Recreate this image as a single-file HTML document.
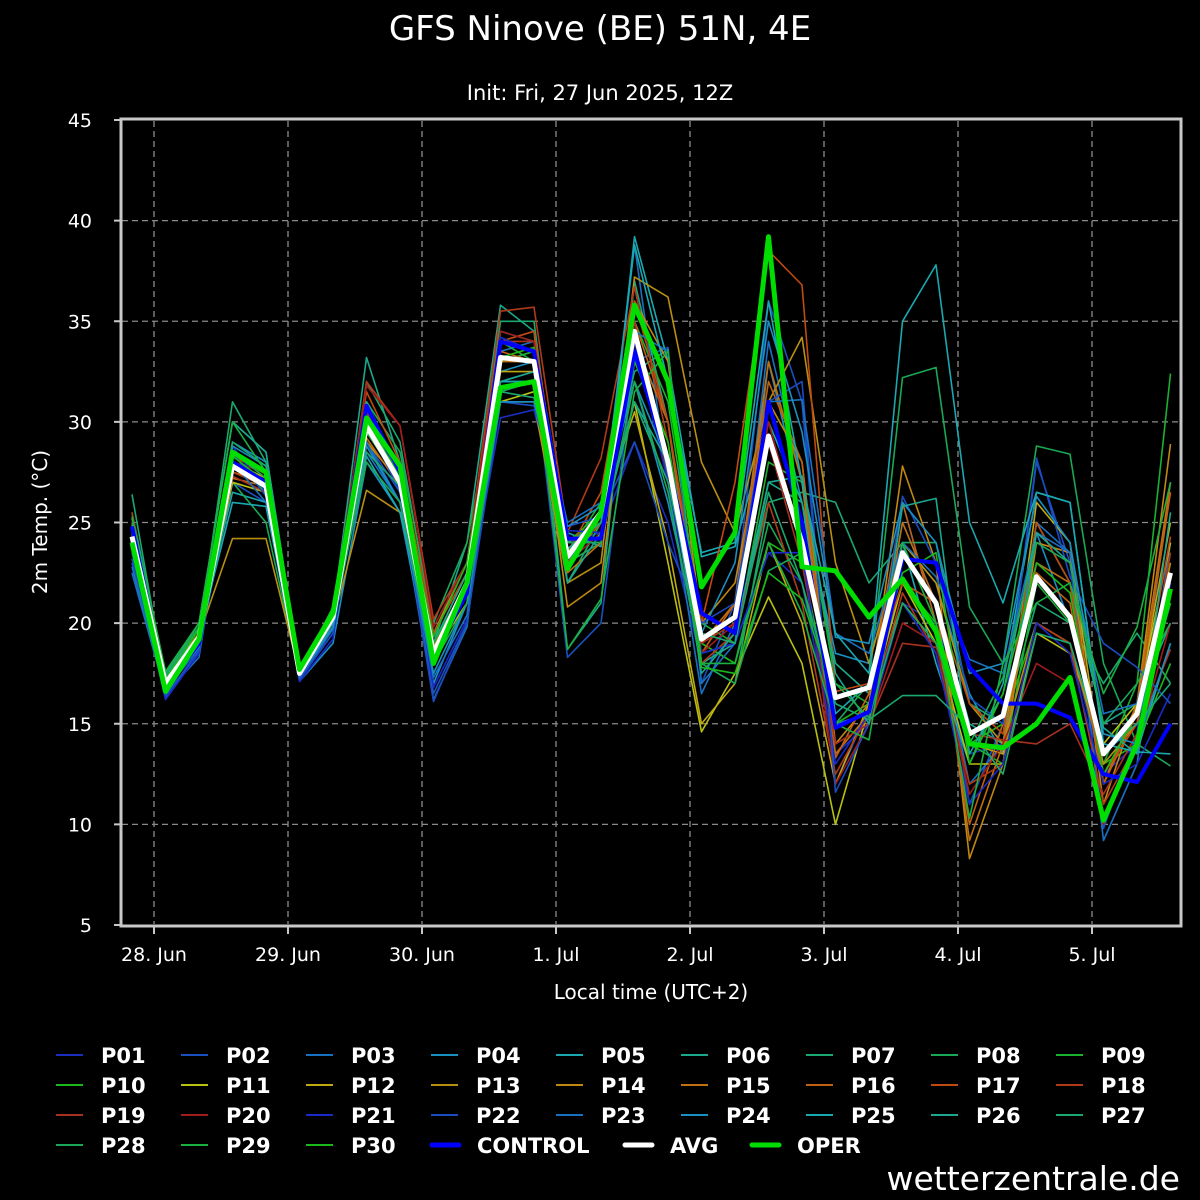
<!DOCTYPE html>
<html><head><meta charset="utf-8"><style>
html,body{margin:0;padding:0;background:#000;}
svg{display:block;font-family:"DejaVu Sans","Liberation Sans",sans-serif;}
</style></head><body>
<svg id="chart" width="1200" height="1200" viewBox="0 0 1200 1200" xmlns="http://www.w3.org/2000/svg">
<rect width="1200" height="1200" fill="#000"/>
<text x="600" y="40" fill="#fff" font-size="34" text-anchor="middle">GFS Ninove (BE) 51N, 4E</text>
<text x="600" y="100" fill="#fff" font-size="21" text-anchor="middle">Init: Fri, 27 Jun 2025, 12Z</text>
<g id="grid"></g>
<g id="members"></g>
<g id="mainlines"></g>
<rect x="121" y="119" width="1060" height="807" fill="none" stroke="#c8c8c8" stroke-width="3"/>
<g id="axes"></g>
<text transform="translate(47,522) rotate(-90)" fill="#fff" font-size="20" text-anchor="middle">2m Temp. (°C)</text>
<text x="651" y="999" fill="#fff" font-size="20" text-anchor="middle">Local time (UTC+2)</text>
<g id="legend"></g>
<text x="1180" y="1190" fill="#fff" font-size="33" text-anchor="end">wetterzentrale.de</text>
</svg>
<script>
const yTicks=[5,10,15,20,25,30,35,40,45];
const dayLabels=['28. Jun','29. Jun','30. Jun','1. Jul','2. Jul','3. Jul','4. Jul','5. Jul'];
const avgValues=[24.3,17,19.3,27.8,26.8,17.5,20.3,29.8,27,18.5,22,33.2,33,23.3,25.5,34.5,28,19.2,20.3,29.3,24,16.3,16.8,23.5,21,14.5,15.4,22.3,20.3,13.5,15.5,22.5];
const operValues=[24,16.6,19.2,28.5,27.5,17.7,20.5,30.2,27.8,18,22,31.7,32,22.7,25.5,35.8,32,21.8,24.5,39.2,22.8,22.6,20.3,22.2,19.6,14,13.8,15,17.3,10.2,14,21.7];
const controlValues=[24.8,16.8,19,28,27,17.6,20.3,30.8,27.5,18.3,21.5,34,33.5,24.2,24.2,33.5,28,20.5,19.5,31,25,14.8,15.6,23.2,23,17.8,16,16,15.3,12.5,12.1,15];
const memberValues=[
[25,16.5,18.5,28,27,17.3,19.5,30,27,17,21,30.2,30.6,24,24.5,29,25,18,19,23.5,22,13.5,15,21,20,13.5,14,20,19,12.5,14,22],
[23,16.3,18.7,27,26,17.2,19.8,29,26.5,16.5,20,32,32.5,18.3,20,33,33.7,17,21,36,31,12,15.8,25,21,11,15,28,23,9.8,14.5,27],
[22.5,16.5,18.3,28.5,27.5,17.6,19.8,28.5,26,16.2,19.8,33.5,34,24,24,38.8,27,16.5,20,34,27,15,15.5,26,20,12,14,25,23.5,9.2,13,24],
[23.5,17,19,29,28,17.1,19,28,25.5,17,21,32.5,33,23,25.5,32,26,18.5,19,33,26,18.5,18,24,22,16.5,13.5,24.5,20,13.5,15,21],
[24,17.2,19.5,26.5,26,17.4,20,29.5,28,18,22,34.5,34,24.5,23.8,39.2,33,23.3,23.8,30,26,15.5,17,24,18,13,17,26.5,26,14,13.6,19],
[25.5,17.5,20,30,28.5,17.8,20.5,33.2,28,19,24,35.8,34.5,18.7,21,37,30,18,19,27,26,18,16.5,22,21,15,14,25,22,15,16,20],
[26.4,17,19.5,31,28,17.5,20.2,32,29,19.5,23,35,35,22,25,32.5,33.6,18,17,26,26.5,26,22,24,24,16,15,21,20,17,19.5,17],
[24.5,16.8,19,27,25,17.4,20.5,31,28.5,20,24,33,33.5,23,24,34,30,19,18,25,22,15,17,32.2,32.7,20.8,18,28.8,28.4,18,14,12.9],
[23.8,17.3,20,28,27,17.6,20.8,30.5,27.5,19,22.5,33,33.5,23.5,26,35,31,20,19,28,27,17,16,21,19,14,13,22,20,13,17,32.4],
[24.2,17,19.2,28,26.5,17.5,20.3,30,27.5,18.5,22,32,32,24,25.5,33,29,19,18,24,23,15,16,22,20,14,15,20,19,13,14,18],
[24,17.3,19.5,27,26.5,17.5,20,29,27,18.5,21,31,31.5,24,25,31,23,14.6,17.5,21.3,18,10,15.8,22,19,13,13,19.5,18.5,14,16,24],
[24.5,17.1,19.3,28,27.2,17.6,20.4,29.5,27,18.8,22,32.5,32.5,23.2,25.5,30.5,24,15,17,24,20,12,16,21,19,14,13.5,26,24,12,16,25],
[24.3,17.2,19.4,24.2,24.2,17.5,20,26.6,25.5,19.5,23,31,31,22,23,37.2,36.2,28,24.5,31,34.2,23,18,24,22,16,14,20,19,13,15,23],
[24.5,17,19.2,27.5,27,17.6,20.3,29,27,18,22,33,33,20.8,22,36,33,20,22,31,28,14,16,27.8,23,8.3,13,24,23.5,11,16,28.9],
[24.2,16.9,19.1,27.2,26.8,17.5,20.2,29.2,26.8,18.3,21.5,33,33,22.5,24,34,30,19,21,33,27,13.5,15.5,25,21,9.2,14,23,22,12,16,27],
[24.6,17.1,19.4,27.8,27,17.6,20.4,30,27.2,18.7,22,33.5,33,23,25,35,30,18.5,21,32,28,13.3,16.5,26,20,10,15,22.5,21,12,15.5,26.5],
[25,17,19.5,28.3,27.4,17.7,20.6,31.5,28,19.5,22.5,34,34.5,23.5,26.5,36,30,20,27,38.5,36.8,16.6,17,22,21,16,14.5,25,22,12.5,15,24.3],
[25.5,16.8,19.2,27.5,26.8,17.5,20.3,32,29.8,20.2,23,35.5,35.7,24.5,28.2,36.7,29,18,19.5,26,21,12.5,15.5,21.5,18.5,12,13,20,19,11,14,23.5],
[24.8,17,19.3,27.3,26.5,17.5,20,30.5,27.5,19,22.5,34,34,24,25,35,27,19,20,29,23,14,15,19,18.8,14.5,14.2,14,15,11.5,14.5,18.7],
[25.2,17.2,19.4,28,27.5,17.8,20.6,31.8,29.8,19.8,23,34.5,34,23,24.5,34,28,18.5,20,30,24,12,15,20,19,11.5,14,18,17,10,14,20],
[23.5,16.2,18.5,28.8,26.5,17.1,19.2,30.8,27,16.8,20.2,34.2,33.5,24.6,24.5,34,27,18.5,19,23.5,23.5,13,15.5,21,18.5,11,13,20,18.5,12,13,16.5],
[23.2,16.4,18.6,28.5,26.3,17.2,19.5,30,26.5,16.1,20,31,30.8,24.8,25.3,29,24,20,21,31,32,11.6,15,26.3,23,16.3,15,28.2,22.3,19,17.8,16],
[22.8,16.6,18.8,28,26,17.3,19.7,29,26,17.3,20.4,32,32,25,26,34.5,33.5,17,19,31,31.1,19.5,18.5,24,22.3,18.2,17.5,24.5,23.5,15.5,16,22.5],
[23.8,17,19,28.8,27.8,17.4,19.8,28.8,26,17.5,21,31,31,24.8,25.8,32,28,19.5,23,35,29.5,19.3,19,26,24,17.5,18,26.3,24,14.5,14,19],
[24.4,17.3,19.4,26,25.8,17.5,20,28.3,25.5,18.5,22,32,32,23.7,25,38.8,32,23.5,24,36,27,19.5,17.5,35,37.8,25,21,26.5,26,14,13.6,13.5],
[25.2,17.5,20,30,28.5,17.8,20.5,31,27.5,19,22.5,32,32.5,22,24.5,31,28,17.5,19.5,27,27.3,17.5,15,25.8,26.2,13.5,16.5,24.5,23,14.8,13.5,25.5],
[24.6,17.3,19.8,29,27.8,17.6,20.4,28.5,26.8,18.6,22,31.5,31.2,24,25,31,27,19.5,19,26.5,22,16,15.2,16.4,16.4,14.8,12.5,19.5,19,13.7,15,17],
[24.9,17.4,19.8,28.5,27.2,17.6,20.2,28,26,18,21,31.5,32,24,24,32,26.5,18,17,22.6,23.5,17,15.3,21,19,14,17.3,24,23,15,17,20],
[25.3,17.6,20,30,27.5,17.8,20.6,29.5,27,19,22,34,33,18.7,21.2,31.5,33.5,18,18,24,20.5,15,14.2,24,20,10.3,18,21,22,16.5,19.8,27],
[24.7,17.2,19.7,28.3,27,17.6,20.5,30,27.3,19.3,23,33.2,33.7,23.5,25.5,33.4,29,17.8,17.5,22.5,21.2,16.3,16.8,22.5,23.5,13,16.5,23,21.5,12.5,15.5,21]
];
const memberColors=['#1a2fc0','#1a50c0','#1a70c0','#1a90c0','#1aa8b0','#1aa88a','#1aa870','#1aa856','#1ab030','#1ab81a','#b8c010','#c0a810','#b89010','#c08810','#c07010','#c06010','#c04a10','#b03a18','#a83020','#a01c1c','#1a2ac8','#1a4cc0','#1a70c0','#1a90c0','#1aa8b0','#1aa890','#1aa870','#1aa858','#1ab040','#1ab81a'];

const X0=132, DX=33.5, dayX0=154, DAY=134;
function yScale(v){return 120+(45-v)*(805/40);}
function xScale(i){return X0+i*DX;}
const NS='http://www.w3.org/2000/svg';
function mk(tag,attrs,parent){const e=document.createElementNS(NS,tag);for(const k in attrs)e.setAttribute(k,attrs[k]);parent.appendChild(e);return e;}
const grid=document.getElementById('grid'),axes=document.getElementById('axes');
yTicks.forEach(t=>{
  const y=yScale(t);
  if(t>5&&t<45){const l=mk('line',{x1:122,x2:1180,y1:y,y2:y,stroke:'#8a8a8a','stroke-width':1.3,'stroke-dasharray':'6,4'},grid);
  
  }
  const tk=mk('line',{x1:114,x2:121,y1:y,y2:y,stroke:'#c8c8c8','stroke-width':2},axes);
  
  
  const tx=mk('text',{x:92,y:y+7,fill:'#fff','font-size':19,'text-anchor':'end'},axes);
  tx.textContent=t;
  
  
});
dayLabels.forEach((d,i)=>{
  const x=dayX0+i*DAY;
  const l=mk('line',{x1:x,x2:x,y1:121,y2:924,stroke:'#8a8a8a','stroke-width':1.3,'stroke-dasharray':'6,4'},grid);
  
  
  const tk=mk('line',{x1:x,x2:x,y1:926,y2:934,stroke:'#c8c8c8','stroke-width':2},axes);
  
  
  const tx=mk('text',{x:x,y:961,fill:'#fff','font-size':19,'text-anchor':'middle'},axes);
  tx.textContent=d;
  
  
});
function pts(arr){return arr.map((v,i)=>xScale(i).toFixed(1)+','+yScale(v).toFixed(1)).join(' ');}
const mg=document.getElementById('members');
memberValues.forEach((arr,k)=>{
  const p=mk('polyline',{points:pts(arr),fill:'none',stroke:memberColors[k],'stroke-width':1.6,'stroke-linejoin':'round'},mg);
  
  
});
const ml=document.getElementById('mainlines');
const c=mk('polyline',{points:pts(controlValues),fill:'none',stroke:'#0000ff','stroke-width':4,'stroke-linejoin':'round'},ml);


const a=mk('polyline',{points:pts(avgValues),fill:'none',stroke:'#ffffff','stroke-width':5,'stroke-linejoin':'round'},ml);


const o=mk('polyline',{points:pts(operValues),fill:'none',stroke:'#00dd00','stroke-width':5,'stroke-linejoin':'round'},ml);


const lg=document.getElementById('legend');
const entries=[];
for(let i=0;i<30;i++)entries.push(['P'+String(i+1).padStart(2,'0'),memberColors[i],2]);
entries.push(['CONTROL','#0000ff',5],['AVG','#ffffff',5],['OPER','#00dd00',5]);
const lastRowX=[56,181,306,432,625,752];
entries.forEach((e,i)=>{
  const col=i%9,row=Math.floor(i/9);
  const x=row===3?lastRowX[col]:56+col*125,y=1055+row*30;
  const g=mk('g',{},lg);
  
  
  const l=mk('line',{x1:x,x2:x+27,y1:y,y2:y,stroke:e[1],'stroke-width':e[2],'stroke-linecap':e[2]>2?'round':'butt'},g);
  
  
  const t=mk('text',{x:x+45,y:y+8,fill:'#fff','font-size':21,'font-weight':'bold'},g);
  t.textContent=e[0];
  
  
});
</script>
</body></html>
